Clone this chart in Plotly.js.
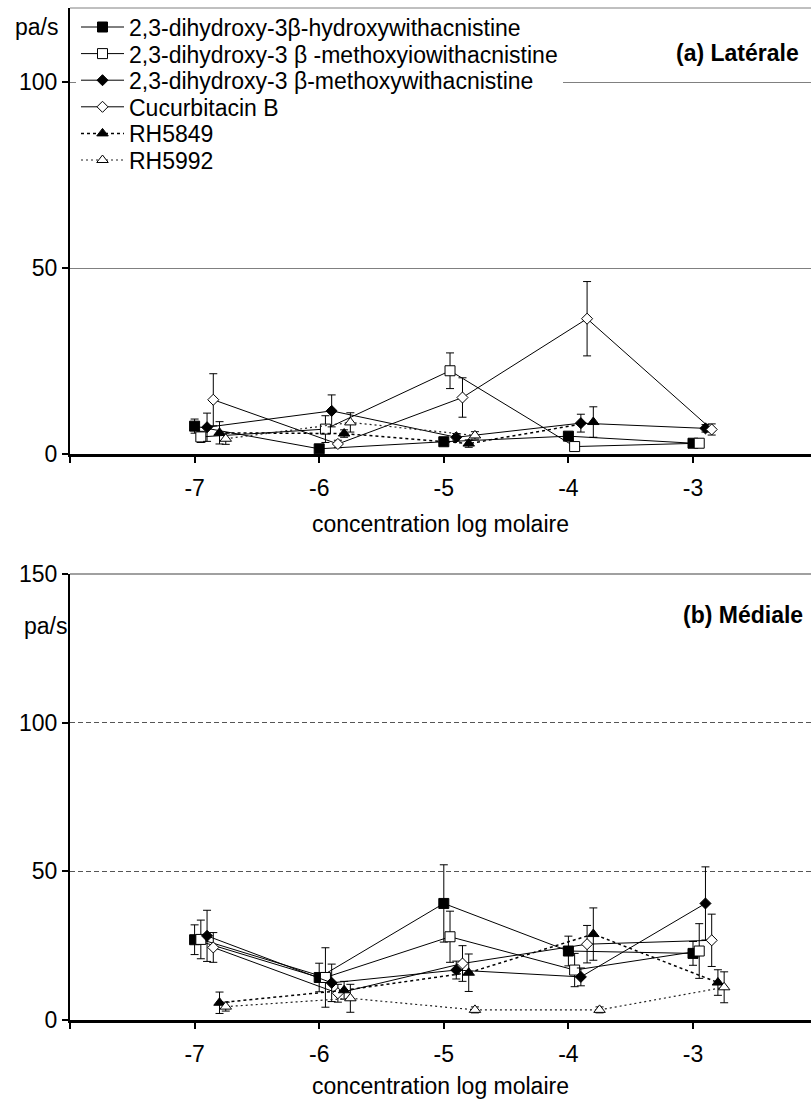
<!DOCTYPE html>
<html>
<head>
<meta charset="utf-8">
<script src="https://cdn.plot.ly/plotly-3.0.1.min.js"></script>
<style>
  html, body { margin: 0; padding: 0; background: #fff; }
  #chart { width: 811px; height: 1099px; }
</style>
</head>
<body>
<div id="chart"></div>
<script>
// ---------------- DATA ----------------
const concentrations = [-7, -6, -5, -4, -3];
const xTickValues = [-8, -7, -6, -5, -4, -3];
const xTickLabels = ['', '-7', '-6', '-5', '-4', '-3'];

const seriesNames = [
  '2,3-dihydroxy-3β-hydroxywithacnistine',
  '2,3-dihydroxy-3 β -methoxyiowithacnistine',
  '2,3-dihydroxy-3 β-methoxywithacnistine',
  'Cucurbitacin B',
  'RH5849',
  'RH5992'
];

// (a) Latérale
const latHydroxy      = [7.5, 1.4, 3.3, 4.8, 2.9];
const latHydroxyErr   = [1.9, 0.8, 0.8, 0.8, 0.5];
const latMethoxyio    = [4.6, 6.7, 22.4, 2.0, 2.9];
const latMethoxyioErr = [1.5, 3.6, 4.8, 1.0, 0.5];
const latMethoxy      = [7.2, 11.6, 4.5, 8.3, 6.9];
const latMethoxyErr   = [3.8, 4.3, 1.0, 2.4, 1.0];
const latCucurb       = [14.6, 2.7, 15.2, 36.4, 6.6];
const latCucurbErr    = [7.0, 1.0, 5.3, 10.0, 1.5];
const latRH5849       = [5.7, 5.5, 2.8, 8.6, null];
const latRH5849Err    = [3.0, 1.0, 1.0, 4.1, null];
const latRH5992       = [4.1, 8.5, 5.0, null, null];
const latRH5992Err    = [1.5, 2.6, 1.0, null, null];

// (b) Médiale
const medHydroxy      = [27.0, 14.3, 39.2, 23.2, 22.4];
const medHydroxyErr   = [5.0, 4.8, 13.0, 5.0, 4.0];
const medMethoxyio    = [27.1, 14.3, 28.0, 16.8, 23.2];
const medMethoxyioErr = [6.5, 10.0, 8.6, 5.6, 9.2];
const medMethoxy      = [28.3, 12.5, 16.8, 14.5, 39.2];
const medMethoxyErr   = [8.6, 6.3, 3.0, 3.0, 12.3];
const medCucurb       = [24.4, 9.0, 19.0, 25.5, 26.8];
const medCucurbErr    = [5.0, 3.0, 6.0, 6.3, 8.8];
const medRH5849       = [5.8, 10.0, 15.9, 28.9, 12.6];
const medRH5849Err    = [3.6, 3.0, 6.3, 8.8, 4.3];
const medRH5992       = [4.5, 7.3, 3.4, 3.4, 11.0];
const medRH5992Err    = [1.5, 4.7, 1.0, 1.0, 5.2];

// ---------------- STYLE ----------------
const jitter = [0, 0.05, 0.1, 0.15, 0.2, 0.25];   // horizontal display offset per series
const styles = [
  {symbol: 'square',       fill: 'black', size: 10, dash: 'solid', lw: 1, lc: 'black'},
  {symbol: 'square',       fill: 'white', size: 10, dash: 'solid', lw: 1, lc: 'black'},
  {symbol: 'diamond',      fill: 'black', size: 8.5, dash: 'solid', lw: 1, lc: 'black'},
  {symbol: 'diamond',      fill: 'white', size: 8.5, dash: 'solid', lw: 1, lc: 'black'},
  {symbol: 'triangle-up',  fill: 'black', size: 10, dash: 'dot',   lw: 1.5, lc: 'black'},
  {symbol: 'triangle-up',  fill: 'white', size: 10, dash: '2px,3px', lw: 1.2, lc: '#222222'}
];

const latSeries = [[latHydroxy, latHydroxyErr], [latMethoxyio, latMethoxyioErr], [latMethoxy, latMethoxyErr],
                   [latCucurb, latCucurbErr], [latRH5849, latRH5849Err], [latRH5992, latRH5992Err]];
const medSeries = [[medHydroxy, medHydroxyErr], [medMethoxyio, medMethoxyioErr], [medMethoxy, medMethoxyErr],
                   [medCucurb, medCucurbErr], [medRH5849, medRH5849Err], [medRH5992, medRH5992Err]];

function makeTrace(vals, errs, i, xa, ya, showLegend) {
  const s = styles[i];
  return {
    type: 'scatter', mode: 'lines+markers',
    name: seriesNames[i],
    x: concentrations.map(c => c + jitter[i]),
    y: vals,
    xaxis: xa, yaxis: ya,
    showlegend: showLegend,
    connectgaps: false,
    line: {color: s.lc, width: s.lw, dash: s.dash},
    marker: {symbol: s.symbol, size: s.size, color: s.fill, line: {color: 'black', width: 1}},
    error_y: {type: 'data', array: errs, visible: true, color: 'black', thickness: 1, width: 4},
    cliponaxis: false
  };
}

const data = [];
latSeries.forEach((d, i) => data.push(makeTrace(d[0], d[1], i, 'x', 'y', true)));
medSeries.forEach((d, i) => data.push(makeTrace(d[0], d[1], i, 'x2', 'y2', false)));

const FONT = 'Liberation Sans, Arial, sans-serif';
const FS = 23;
const W = 811, H = 1099, ML = 70;
const px = v => (v - ML) / (W - ML);
const py = v => 1 - v / H;

const xCommon = {
  range: [-8, -2.053],
  tickvals: xTickValues, ticktext: xTickLabels,
  ticks: 'outside', ticklen: 6, tickwidth: 2, tickcolor: 'black',
  ticklabelstandoff: 5,
  showline: true, linewidth: 3, linecolor: 'black',
  showgrid: false, zeroline: false,
  tickfont: {family: FONT, size: FS, color: 'black'},
  title: {text: 'concentration log molaire', font: {family: FONT, size: FS, color: 'black'}, standoff: 17},
  automargin: false, fixedrange: true
};
const yCommon = {
  ticks: 'outside', ticklen: 6, tickwidth: 2, tickcolor: 'black',
  showline: true, linewidth: 2, linecolor: 'black',
  zeroline: false,
  tickfont: {family: FONT, size: FS, color: 'black'},
  automargin: false, fixedrange: true
};

const layout = {
  width: W, height: H,
  margin: {l: ML, r: 0, t: 0, b: 0},
  paper_bgcolor: 'white', plot_bgcolor: 'white',
  font: {family: FONT, size: FS, color: 'black'},
  showlegend: true,
  legend: {
    x: px(76), y: py(11), xanchor: 'left', yanchor: 'top',
    bgcolor: 'white', borderwidth: 0,
    font: {family: FONT, size: FS, color: 'black'},
    itemwidth: 43, tracegroupgap: 0
  },
  xaxis: Object.assign({}, xCommon, {domain: [0, 1], anchor: 'y'}),
  xaxis2: Object.assign({}, xCommon, {domain: [0, 1], anchor: 'y2'}),
  yaxis: Object.assign({}, yCommon, {
    domain: [py(454), py(8)], anchor: 'x', range: [0, 120],
    tickvals: [0, 50, 100], showgrid: true, gridcolor: '#808080', gridwidth: 1
  }),
  yaxis2: Object.assign({}, yCommon, {
    domain: [py(1020), py(574)], anchor: 'x2', range: [0, 150],
    tickvals: [0, 50, 100, 150], showgrid: true, gridcolor: '#555555', gridwidth: 1, griddash: '5px,3px'
  }),
  shapes: [
    {type: 'line', xref: 'paper', yref: 'y domain', x0: 0, x1: 1, y0: 1, y1: 1, line: {color: '#808080', width: 1}},
    {type: 'line', xref: 'paper', yref: 'y2 domain', x0: 0, x1: 1, y0: 1, y1: 1, line: {color: '#808080', width: 1.5}}
  ],
  annotations: [
    {text: 'pa/s', xref: 'paper', yref: 'paper', x: px(60), y: py(27), xanchor: 'right', yanchor: 'middle', showarrow: false, font: {family: FONT, size: FS}},
    {text: '<b>(a) Latérale</b>', xref: 'paper', yref: 'paper', x: px(801), y: py(53), xanchor: 'right', yanchor: 'middle', showarrow: false, font: {family: FONT, size: FS}},
    {text: 'pa/s', xref: 'paper', yref: 'paper', x: px(69), y: py(626), xanchor: 'right', yanchor: 'middle', showarrow: false, font: {family: FONT, size: FS}},
    {text: '<b>(b) Médiale</b>', xref: 'paper', yref: 'paper', x: px(805), y: py(615), xanchor: 'right', yanchor: 'middle', showarrow: false, font: {family: FONT, size: FS}}
  ]
};

Plotly.newPlot('chart', data, layout, {staticPlot: true, displayModeBar: false}).then(gd => {
  // tighten legend row spacing to match the reference (about 26.6 px per row)
  const SPACING = 26.6, FIRST_CENTER = 27;
  const leg = gd.querySelector('.legend');
  if (!leg) return;
  const m = /translate\(\s*([-\d.]+)[ ,]+([-\d.]+)\s*\)/.exec(leg.getAttribute('transform') || '');
  const ly = m ? parseFloat(m[2]) : 0;
  const items = leg.querySelectorAll('.traces');
  items.forEach((el, i) => {
    const t = /translate\(\s*([-\d.]+)[ ,]+([-\d.]+)\s*\)/.exec(el.getAttribute('transform') || '');
    const tx = t ? t[1] : 0;
    el.setAttribute('transform', 'translate(' + tx + ',' + (FIRST_CENTER + i * SPACING - ly) + ')');
  });
  const bg = leg.querySelector('.bg');
  if (bg) bg.setAttribute('height', (FIRST_CENTER + 5 * SPACING + 16 - ly));
});
</script>
</body>
</html>
